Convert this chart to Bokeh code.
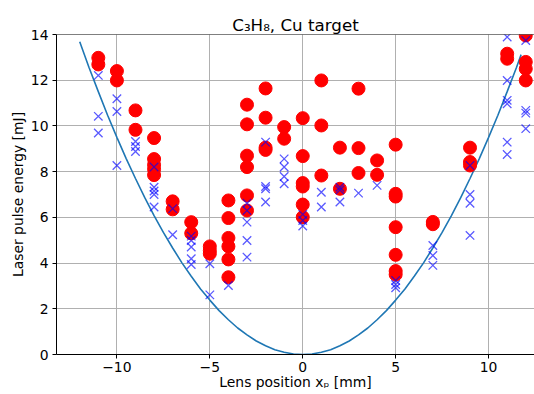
from bokeh.plotting import figure
from bokeh.models import Range1d, FixedTicker, CustomJSTickFormatter, Span
from bokeh.embed import file_html
from bokeh.resources import INLINE

# ---- data ----
red_x = ([-11] * 2 + [-10] * 2 + [-9] * 2 + [-8] * 5 + [-7] * 2 + [-6] * 2 + [-5] * 3 +
         [-4] * 6 + [-3] * 6 + [-2] * 4 + [-1] * 2 + [0] * 6 + [1] * 3 + [2] * 2 +
         [3] * 3 + [4] * 2 + [5] * 7 + [7] * 2 + [9] * 3 + [11] * 2 + [12] * 4)
red_y = [12.98, 12.69,
         12.40, 11.99,
         10.68, 9.83,
         9.47, 8.55, 8.30, 8.10, 7.85,
         6.70, 6.35,
         5.79, 5.30,
         4.73, 4.55, 4.41,
         6.74, 5.97, 5.10, 4.73, 4.16, 3.38,
         10.93, 10.07, 8.70, 8.20, 6.96, 6.30,
         11.64, 10.36, 9.05, 8.95,
         9.95, 9.44,
         10.34, 8.68, 7.50, 7.35, 6.56, 6.01,
         11.99, 10.02, 7.83,
         9.05, 7.25,
         11.63, 9.03, 7.94,
         8.49, 7.86,
         9.18, 7.03, 6.91, 5.57, 4.36, 3.65, 3.50,
         5.80, 5.70,
         9.05, 8.42, 8.27,
         13.16, 12.94,
         13.96, 12.80, 12.50, 11.99]

blue_x = ([-11] * 3 + [-10] * 3 + [-9] * 3 + [-8] * 5 + [-7] * 2 + [-6] * 5 + [-5] * 2 +
          [-4] * 1 + [-3] * 5 + [-2] * 4 + [-1] * 4 + [0] * 3 + [1] * 2 + [2] * 3 +
          [3] * 1 + [4] * 1 + [5] * 3 + [7] * 3 + [9] * 4 + [11] * 6 + [12] * 4)
blue_y = [12.21, 10.42, 9.69,
          11.19, 10.63, 8.27,
          9.32, 9.10, 8.88,
          8.20, 7.32, 7.15, 7.00, 6.45,
          6.38, 5.24,
          5.18, 4.99, 4.70, 4.19, 3.94,
          3.97, 2.61,
          3.02,
          6.62, 6.30, 5.79, 4.99, 4.26,
          9.29, 7.35, 7.25, 6.67,
          8.56, 8.20, 7.79, 7.47,
          6.13, 5.86, 5.62,
          7.10, 6.45,
          7.32, 7.20, 6.67,
          7.06,
          7.40,
          3.24, 3.06, 2.92,
          4.77, 4.33, 3.90,
          8.27, 7.00, 6.62, 5.21,
          13.89, 11.99, 11.12, 10.97, 9.29, 8.75,
          13.74, 10.68, 10.56, 9.88]

curve_x = [-12.0, -11.5, -11.0, -10.5, -10.0, -9.5, -9.0, -8.5, -8.0, -7.5, -7.0, -6.5,
           -6.0, -5.5, -5.0, -4.5, -4.0, -3.5, -3.0, -2.5, -2.0, -1.5, -1.0, -0.5, 0.0,
           0.5, 1.0, 1.5, 2.0, 2.5, 3.0, 3.5, 4.0, 4.5, 5.0, 5.5, 6.0, 6.5, 7.0, 7.5,
           8.0, 8.5, 9.0, 9.5, 10.0, 10.5, 11.0, 11.5, 11.75]
curve_y = [13.68, 12.56, 11.50, 10.47, 9.50, 8.57, 7.70, 6.86, 6.08, 5.34, 4.66, 4.01,
           3.42, 2.87, 2.38, 1.92, 1.52, 1.16, 0.86, 0.59, 0.38, 0.21, 0.10, 0.02, 0.00,
           0.02, 0.10, 0.21, 0.38, 0.59, 0.86, 1.16, 1.52, 1.92, 2.38, 2.87, 3.42, 4.01,
           4.66, 5.34, 6.08, 6.86, 7.70, 8.57, 9.50, 10.47, 11.50, 12.56, 13.12]

x_ticks = [-10, -5, 0, 5, 10]
y_ticks = [0, 2, 4, 6, 8, 10, 12, 14]

title_text = "C\u2083H\u2088, Cu target"
x_label = "Lens position x\u209a [mm]"
y_label = "Laser pulse energy [mJ]"

FONT = "DejaVu Sans"

p = figure(width=534, height=394,
           x_range=Range1d(-13.25, 12.47), y_range=Range1d(0, 14),
           output_backend="svg", toolbar_location=None,
           min_border_left=56, min_border_right=0, min_border_top=34, min_border_bottom=40)

p.title.text = title_text
p.title.align = "center"
p.title.offset = 7
p.title.text_font = FONT
p.title.text_font_size = "16.7px"
p.title.text_font_style = "normal"
p.title.text_color = "black"
p.title.standoff = 0

p.outline_line_color = None
p.background_fill_color = "white"
p.border_fill_color = "white"

# top spine
p.add_layout(Span(location=14, dimension="width", line_color="black", line_width=1))

fmt = CustomJSTickFormatter(code="return tick < 0 ? '\\u2212' + Math.abs(tick) : String(tick);")

p.xaxis.ticker = FixedTicker(ticks=x_ticks)
p.yaxis.ticker = FixedTicker(ticks=y_ticks)
p.xaxis.formatter = fmt
p.yaxis.formatter = fmt
p.xaxis.minor_tick_line_color = None
p.yaxis.minor_tick_line_color = None

for ax in (p.xaxis, p.yaxis):
    ax.major_label_text_font = FONT
    ax.major_label_text_font_size = "13.9px"
    ax.major_label_text_color = "black"
    ax.axis_label_text_font = FONT
    ax.axis_label_text_font_size = "13.9px"
    ax.axis_label_text_font_style = "normal"
    ax.axis_label_text_color = "black"
    ax.axis_line_color = "black"
    ax.major_tick_line_color = "black"
    ax.major_tick_in = 0
    ax.major_tick_out = 4

p.xaxis.major_label_standoff = 3
p.yaxis.major_label_standoff = 4
p.xaxis.axis_label = x_label
p.xaxis.axis_label_standoff = -1
p.yaxis.axis_label = y_label
p.yaxis.axis_label_standoff = 2

p.xgrid.grid_line_color = "#b0b0b0"
p.ygrid.grid_line_color = "#b0b0b0"
p.xgrid.grid_line_width = 1
p.ygrid.grid_line_width = 1

p.line(curve_x, curve_y, line_color="#1f77b4", line_width=1.6)
p.scatter(red_x, red_y, marker="circle", size=13, fill_color="red", line_color="red")
p.scatter(blue_x, blue_y, marker="x", size=12, line_color="blue", line_alpha=0.65, line_width=1.3)

open("out.html", "w").write(file_html(p, INLINE))
